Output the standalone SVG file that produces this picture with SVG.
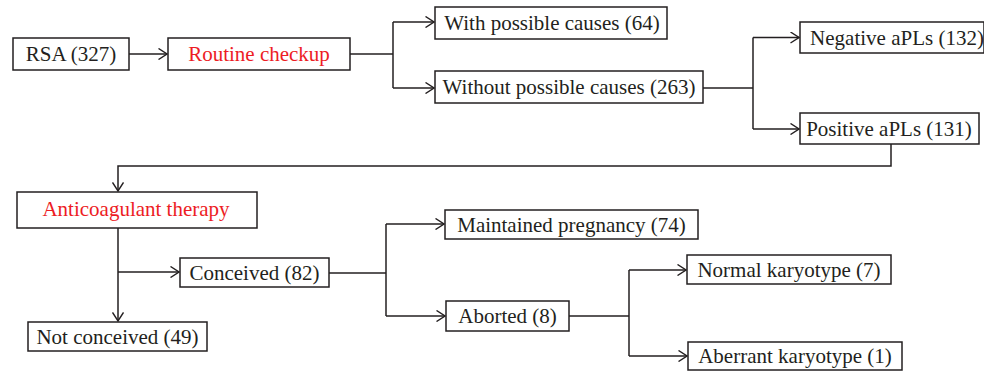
<svg xmlns="http://www.w3.org/2000/svg" width="984" height="372" viewBox="0 0 984 372">
<defs>
<marker id="arr" viewBox="0 0 10 12" refX="9.5" refY="6" markerWidth="10" markerHeight="12" markerUnits="userSpaceOnUse" orient="auto">
<path d="M1,0.5 L9.5,6 L1,11.5" fill="none" stroke="#231f20" stroke-width="1.4"/>
</marker>
<style>
.box{fill:#fff;stroke:#231f20;stroke-width:1.5}
.t{font-family:"Liberation Serif","Times New Roman",serif;font-size:21px;fill:#231f20;text-anchor:middle}
.r{fill:#ed1c24}
.c{fill:none;stroke:#231f20;stroke-width:1.5}
</style>
</defs>
<rect width="984" height="372" fill="#fff"/>
<g id="connectors">
<path class="c" d="M129,54 H167" marker-end="url(#arr)"/>
<path class="c" d="M350,54 H393"/>
<path class="c" d="M393,22 V88"/>
<path class="c" d="M393,22 H434" marker-end="url(#arr)"/>
<path class="c" d="M393,88 H434" marker-end="url(#arr)"/>
<path class="c" d="M703,88 H753"/>
<path class="c" d="M753,37.5 V129"/>
<path class="c" d="M753,37.5 H799" marker-end="url(#arr)"/>
<path class="c" d="M753,129 H799" marker-end="url(#arr)"/>
<path class="c" d="M891,144 V166 H118 V191" marker-end="url(#arr)"/>
<path class="c" d="M118,228 V321" marker-end="url(#arr)"/>
<path class="c" d="M118,272 H179" marker-end="url(#arr)"/>
<path class="c" d="M329,273 H386"/>
<path class="c" d="M386,224 V316"/>
<path class="c" d="M386,224 H444" marker-end="url(#arr)"/>
<path class="c" d="M386,316 H445" marker-end="url(#arr)"/>
<path class="c" d="M569,316 H629"/>
<path class="c" d="M629,270 V356"/>
<path class="c" d="M629,270 H686" marker-end="url(#arr)"/>
<path class="c" d="M629,356 H687" marker-end="url(#arr)"/>
</g>
<g id="rsa"><rect class="box" x="13" y="38" width="116" height="32"/><text class="t" x="71" y="61">RSA (327)</text></g>
<g id="routine"><rect class="box" x="168" y="38" width="182" height="32"/><text class="t r" x="259" y="61">Routine checkup</text></g>
<g id="with"><rect class="box" x="435" y="7" width="232" height="32"/><text class="t" x="552" y="30">With possible causes (64)</text></g>
<g id="without"><rect class="box" x="435" y="71" width="268" height="32"/><text class="t" x="569" y="94">Without possible causes (263)</text></g>
<g id="negative"><rect class="box" x="800" y="22" width="184" height="31"/><text class="t" x="897" y="45">Negative aPLs (132)</text></g>
<g id="positive"><rect class="box" x="800" y="113" width="179" height="31"/><text class="t" x="889" y="136">Positive aPLs (131)</text></g>
<g id="anticoag"><rect class="box" x="17" y="192" width="240" height="36"/><text class="t r" x="136" y="216">Anticoagulant therapy</text></g>
<g id="conceived"><rect class="box" x="180" y="258" width="149" height="29"/><text class="t" x="254.5" y="280">Conceived (82)</text></g>
<g id="notconceived"><rect class="box" x="28" y="322" width="179" height="29"/><text class="t" x="117.5" y="344">Not conceived (49)</text></g>
<g id="maintained"><rect class="box" x="445" y="210" width="253" height="29"/><text class="t" x="571.5" y="232">Maintained pregnancy (74)</text></g>
<g id="aborted"><rect class="box" x="446" y="301" width="123" height="30"/><text class="t" x="507.5" y="323">Aborted (8)</text></g>
<g id="normal"><rect class="box" x="687" y="255" width="204" height="29"/><text class="t" x="789" y="277">Normal karyotype (7)</text></g>
<g id="aberrant"><rect class="box" x="688" y="342" width="214" height="28"/><text class="t" x="795" y="363">Aberrant karyotype (1)</text></g>
</svg>
